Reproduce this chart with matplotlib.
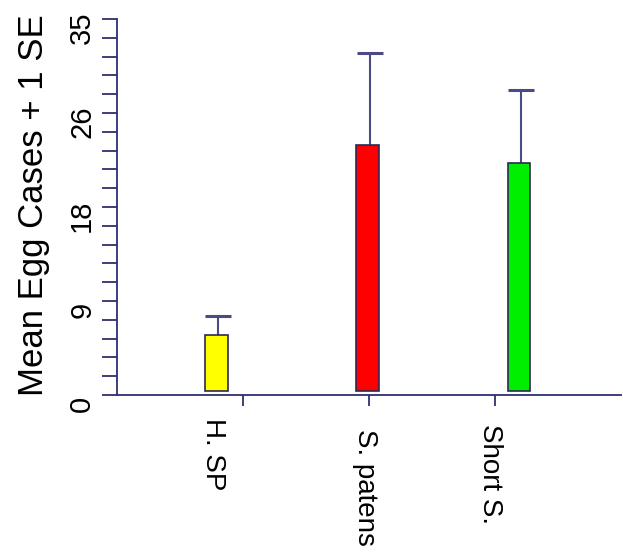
import matplotlib
matplotlib.use('Agg')
import matplotlib.pyplot as plt
import matplotlib.transforms as mtransforms
import numpy as np

# Data
categories = ['H. SP', 'S. patens', 'Short S.']
means = [5.6, 23.3, 21.6]
se = [1.75, 8.5, 6.8]
colors = ['#ffff00', '#ff0000', '#00ee00']

# layout (x in axis units: 0..4, ticks at 1, 2, 3)
bar_pos = [0.79, 1.99, 3.19]
label_pos = [0.76, 1.97, 2.96]
label_top = [-0.06, -0.09, -0.078]
base = 0.4
navy = '#2e2e72'

plt.rcParams['font.family'] = ['Liberation Sans', 'DejaVu Sans']

fig = plt.figure(figsize=(6.23, 5.58), dpi=100)
ax = fig.add_axes([117 / 623, 1 - 395 / 558, 504 / 623, 376 / 558])

heights = np.array(means) - base
ax.bar(bar_pos, heights, bottom=base, width=0.18, color=colors,
       edgecolor='#2a2a55', linewidth=1.2, zorder=3)

# upper error bars only (line + cap)
err_x = np.array(bar_pos) + 0.015
tops = np.array(means) + np.array(se)
ax.vlines(err_x, means, tops, color='#4a4a85', linewidth=1.5, zorder=2)
ax.hlines(tops, err_x - 0.103, err_x + 0.103, color='#4a4a85',
          linewidth=2.2, zorder=2)

ax.set_xlim(0, 4)
ax.set_ylim(0, 35)

# y ticks: majors every 8.75 with rounded labels, minor every 1.75
major = np.arange(0, 35.01, 8.75)
ax.set_yticks(major)
ax.set_yticklabels(['0', '9', '18', '26', '35'], rotation=90, va='center',
                   fontsize=21)
ax.set_yticks(np.arange(0, 35.01, 1.75), minor=True)
ax.tick_params(axis='y', which='both', length=11, width=1.3, color=navy,
               direction='out', pad=4)
offset = mtransforms.ScaledTranslation(0, -9 / 100, fig.dpi_scale_trans)
for lab in ax.get_yticklabels():
    lab.set_transform(lab.get_transform() + offset)

ax.set_xticks([1, 2, 3])
ax.set_xticklabels([])
ax.tick_params(axis='x', length=8, width=1.3, color=navy, direction='out')

for x, y, name in zip(label_pos, label_top, categories):
    ax.text(x, y, name, rotation=-90, ha='center', va='top', fontsize=20,
            transform=ax.get_xaxis_transform())

ax.set_ylabel('Mean Egg Cases + 1 SE', fontsize=25)
ax.yaxis.set_label_coords(-0.133, 0.505)

for side in ['top', 'right']:
    ax.spines[side].set_visible(False)
for side in ['left', 'bottom']:
    ax.spines[side].set_color(navy)
    ax.spines[side].set_linewidth(1.3)

fig.savefig('out.png', dpi=100)
